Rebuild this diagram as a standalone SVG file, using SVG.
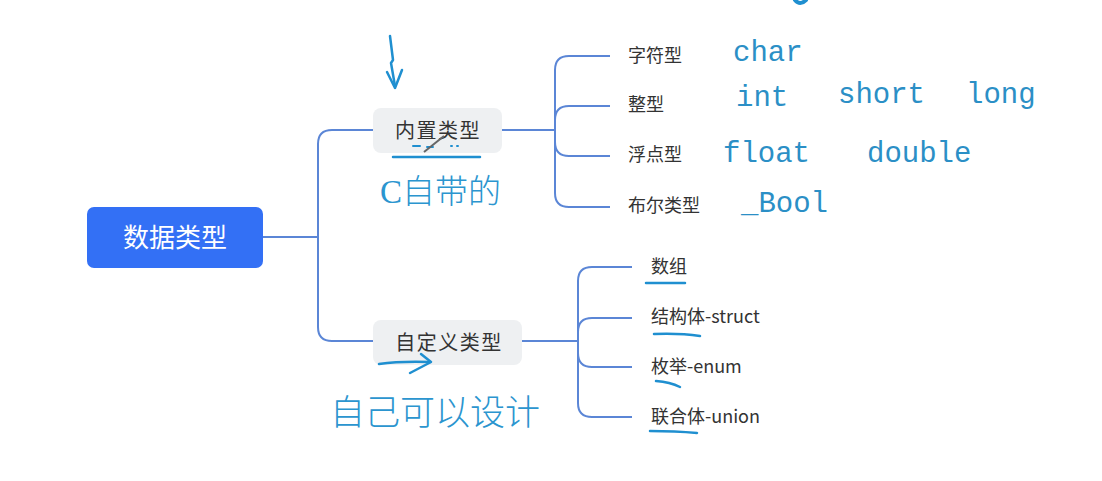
<svg xmlns="http://www.w3.org/2000/svg" width="1102" height="481" viewBox="0 0 1102 481">
<style>
.conn{fill:none;stroke:#5b86d6;stroke-width:2}
.mid{fill:#eef0f2}
.midt{font-family:"Noto Sans CJK SC","Noto Sans",sans-serif;font-size:20px;letter-spacing:1.5px;fill:#333}
.leaf{font-family:"Noto Sans CJK SC","Noto Sans",sans-serif;font-size:18px;fill:#333}
.hand{font-family:"Liberation Mono","DejaVu Sans Mono",monospace;font-size:29px;fill:#2b8fc6}
.handc{font-family:"Noto Sans CJK SC",sans-serif;font-weight:300;font-size:33px;fill:#2b95cf}
.ink{fill:none;stroke:#1f8fd0;stroke-width:2.5;stroke-linecap:round;stroke-linejoin:round}
</style>
<rect width="1102" height="481" fill="#ffffff"/>
<g id="connectors">
<path class="conn" d="M263,237 H318"/>
<path class="conn" d="M373,130 H332 Q318,130 318,144 V327 Q318,341 332,341 H373"/>
<path class="conn" d="M502,130 H555"/>
<path class="conn" d="M610,56 H569 Q555,56 555,70 V193 Q555,207 569,207 H610"/>
<path class="conn" d="M555,120 Q555,106 569,106 H610"/>
<path class="conn" d="M555,142 Q555,156 569,156 H610"/>
<path class="conn" d="M522,341 H578"/>
<path class="conn" d="M632,267 H592 Q578,267 578,281 V403 Q578,417 592,417 H632"/>
<path class="conn" d="M578,332 Q578,318 592,318 H632"/>
<path class="conn" d="M578,353 Q578,367 592,367 H632"/>
</g>
<g id="root">
<rect x="87" y="207" width="176" height="61" rx="7" fill="#3370f5"/>
<text x="175" y="247" text-anchor="middle" font-family="Noto Sans CJK SC,sans-serif" font-size="26" fill="#ffffff">数据类型</text>
</g>
<g id="builtin">
<rect class="mid" x="373" y="108" width="129" height="45" rx="8"/>
<text class="midt" x="438" y="138" text-anchor="middle">内置类型</text>
</g>
<g id="custom">
<rect class="mid" x="373" y="320" width="149" height="45" rx="8"/>
<text class="midt" x="449" y="350" text-anchor="middle">自定义类型</text>
</g>
<g id="leaf-char"><text class="leaf" x="628" y="62">字符型</text></g>
<g id="leaf-int"><text class="leaf" x="628" y="111">整型</text></g>
<g id="leaf-float"><text class="leaf" x="628" y="161">浮点型</text></g>
<g id="leaf-bool"><text class="leaf" x="628" y="212">布尔类型</text></g>
<g id="leaf-array"><text class="leaf" x="651" y="273">数组</text></g>
<g id="leaf-struct"><text class="leaf" x="651" y="323">结构体-struct</text></g>
<g id="leaf-enum"><text class="leaf" x="651" y="373">枚举-enum</text></g>
<g id="leaf-union"><text class="leaf" x="651" y="423">联合体-union</text></g>
<g id="annotations">
<text class="hand" x="733" y="61">char</text>
<text class="hand" x="736" y="106">int</text>
<text class="hand" x="838" y="103">short</text>
<text class="hand" x="966" y="103">long</text>
<text class="hand" x="723" y="162">float</text>
<text class="hand" x="867" y="162">double</text>
<text class="hand" x="741" y="212">_Bool</text>
<text class="handc" x="380" y="203"><tspan style="font-family:'Liberation Serif',serif;font-weight:400">C</tspan>自带的</text>
<text class="handc" x="330" y="425" style="font-size:35px">自己可以设计</text>
<path class="ink" d="M390,36 L393,60 L391,63 L395,86"/>
<path class="ink" d="M387,72 L395,88 L402,70"/>
<path class="ink" d="M393,157 H480"/>
<path class="ink" d="M413,146 H420 M427,147 H433 M451,146 H452 M457,146 H458" style="stroke-width:2"/>
<path d="M424,152 L444,136" stroke="#666" stroke-width="2" fill="none"/>
<path class="ink" d="M379,364 Q400,361 430,362"/>
<path class="ink" d="M421,354 L431,362 L410,373"/>
<path class="ink" d="M646,283 H685"/>
<path class="ink" d="M654,334 Q680,333 700,336"/>
<path class="ink" d="M656,381 Q670,382 680,387"/>
<path class="ink" d="M650,431 Q675,431 697,433"/>
<path class="ink" d="M795,0 Q800,6 806,0" style="stroke-width:4"/>
</g>
</svg>
